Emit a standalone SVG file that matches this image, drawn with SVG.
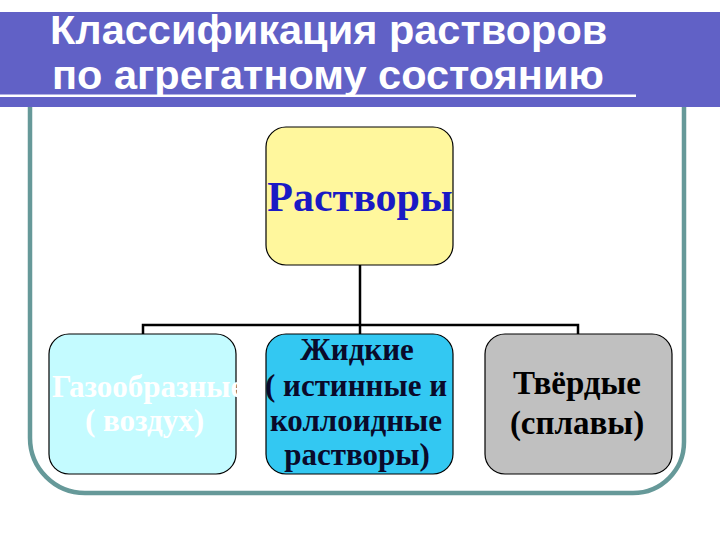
<svg xmlns="http://www.w3.org/2000/svg" width="720" height="540" viewBox="0 0 720 540">
<style>
.title{font-family:"Liberation Sans",Arial,sans-serif;font-weight:bold;font-size:41.5px;fill:#ffffff}
.lbl{font-family:"Liberation Serif","Times New Roman",serif;font-weight:bold;text-anchor:middle}
.box{stroke:#000;stroke-width:1.2}
.conn{stroke:#000;stroke-width:2.5;fill:none}
</style>
<rect x="0" y="0" width="720" height="540" fill="#ffffff"/>
<path d="M30,107 V438 A55,55 0 0 0 85,493 H633 A51,51 0 0 0 684,442 V107" fill="none" stroke="#669999" stroke-width="4.5"/>
<g id="header">
<rect x="0" y="12" width="720" height="95" fill="#6161c6"/>
<rect x="0" y="94.5" width="636" height="2.5" fill="#ffffff"/>
<text class="title" x="50" y="44">Классификация растворов</text>
<text class="title" x="52" y="89">по агрегатному состоянию</text>
</g>
<g id="connectors">
<line class="conn" x1="360" y1="265" x2="360" y2="335"/>
<polyline class="conn" points="143,335 143,325 578,325 578,335"/>
</g>
<g id="node-root">
<rect class="box" x="266" y="127" width="187" height="138" rx="20" fill="#fff79d"/>
<text class="lbl" x="360" y="211" font-size="42" fill="#1a1ac4">Растворы</text>
</g>
<g id="node-gas">
<rect class="box" x="49" y="334" width="187" height="140" rx="20" fill="#c4fbff"/>
<text class="lbl" x="52" y="397" font-size="31" fill="#ffffff" style="text-anchor:start">Газообразные</text>
<text class="lbl" x="85" y="431" font-size="31" fill="#ffffff" style="text-anchor:start">( воздух)</text>
</g>
<g id="node-liquid">
<rect class="box" x="266" y="334" width="187" height="140" rx="20" fill="#33c8f2"/>
<text class="lbl" x="357" y="360" font-size="31" fill="#0a0a2a">Жидкие</text>
<text class="lbl" x="356" y="396" font-size="31" fill="#0a0a2a">( истинные и</text>
<text class="lbl" x="356" y="431" font-size="31" fill="#0a0a2a">коллоидные</text>
<text class="lbl" x="357" y="465" font-size="31" fill="#0a0a2a">растворы)</text>
</g>
<g id="node-solid">
<rect class="box" x="485" y="334" width="187" height="140" rx="20" fill="#c0c0c0"/>
<text class="lbl" x="577" y="394" font-size="33" fill="#000000">Твёрдые</text>
<text class="lbl" x="577" y="434" font-size="33" fill="#000000">(сплавы)</text>
</g>
</svg>
